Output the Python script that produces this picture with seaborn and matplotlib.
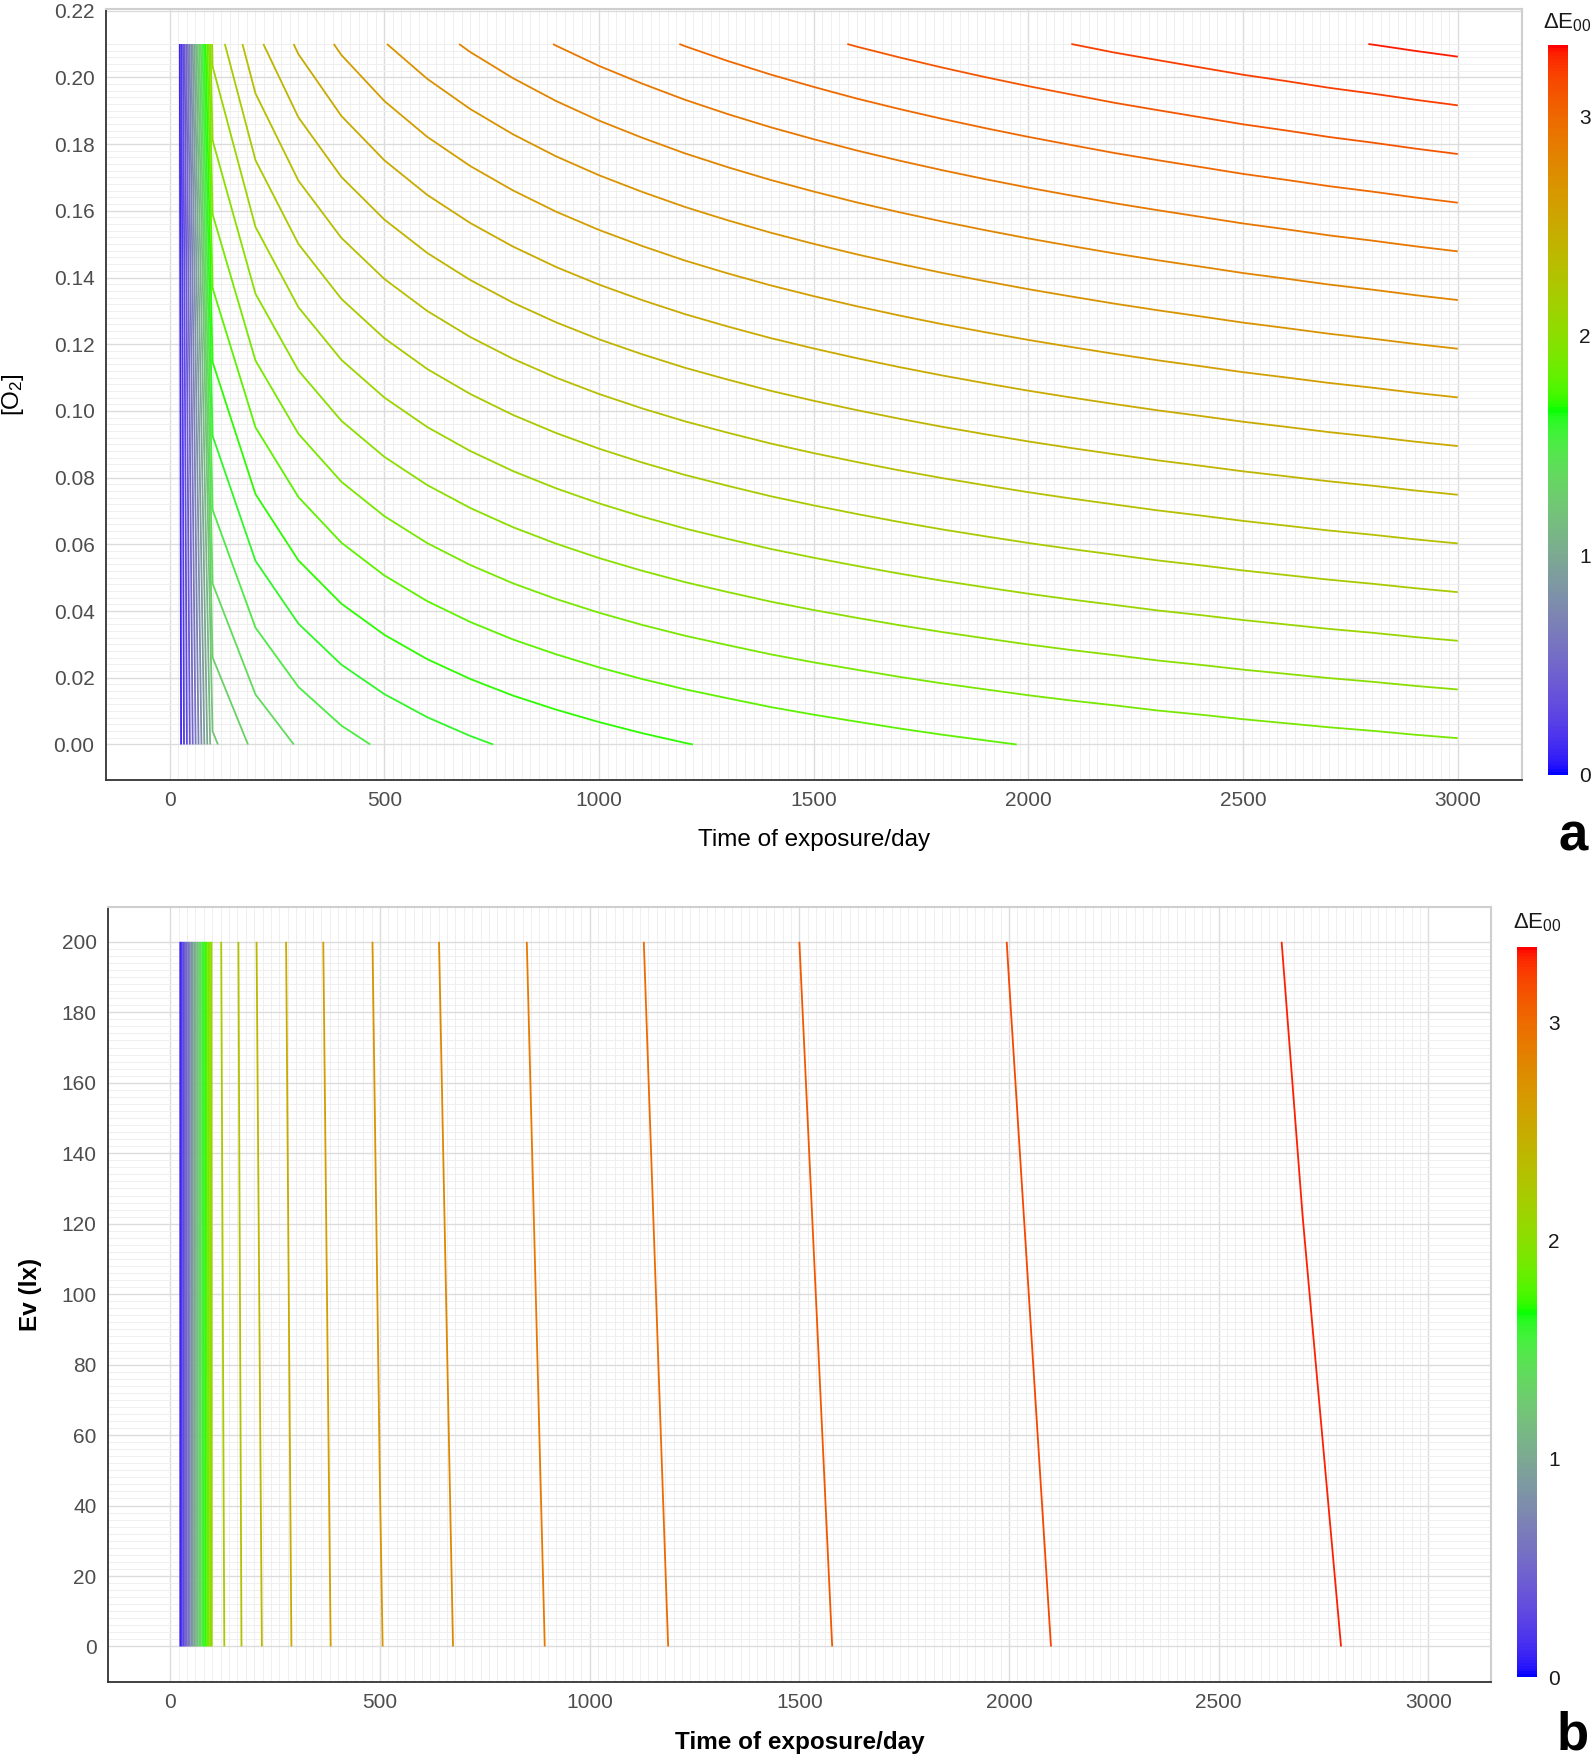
import numpy as np
import matplotlib
matplotlib.use("Agg")
import matplotlib.pyplot as plt
import seaborn as sns
from matplotlib.colors import ListedColormap, Normalize, to_rgb
from matplotlib.cm import ScalarMappable
from matplotlib.ticker import FixedLocator

# === Data: dE00 read off the contour positions ===
# time grid of the model output (days)
time_days = [20, 100, 200, 300, 400, 500, 600, 700, 800, 900, 1000,
             1100, 1200, 1300, 1400, 1500, 1600, 1700, 1800, 1900, 2000,
             2100, 2200, 2300, 2400, 2500, 2600, 2700, 2800, 2900, 3000]

# panel a: rows at [O2] = 0 and [O2] = 0.21
o2_rows = [0.0, 0.21]
de_o2_000 = [0.0, 1.182, 1.325, 1.409, 1.469, 1.515, 1.553, 1.585, 1.613, 1.637, 1.659,
             1.679, 1.697, 1.713, 1.729, 1.743, 1.756, 1.769, 1.781, 1.792, 1.803,
             1.813, 1.822, 1.832, 1.840, 1.849, 1.857, 1.865, 1.872, 1.880, 1.887]
de_o2_021 = [0.0, 2.130, 2.374, 2.516, 2.618, 2.696, 2.760, 2.814, 2.861, 2.903, 2.940,
             2.973, 3.004, 3.032, 3.058, 3.082, 3.105, 3.126, 3.146, 3.165, 3.183,
             3.200, 3.217, 3.232, 3.247, 3.262, 3.275, 3.289, 3.301, 3.314, 3.326]

# panel b: rows at Ev = 0 lx and Ev = 200 lx
ev_rows = [0, 200]
de_ev_000 = [0.0, 2.130, 2.374, 2.516, 2.618, 2.696, 2.760, 2.814, 2.861, 2.903, 2.940,
             2.973, 3.004, 3.032, 3.058, 3.082, 3.105, 3.126, 3.146, 3.165, 3.183,
             3.200, 3.217, 3.232, 3.247, 3.262, 3.275, 3.289, 3.301, 3.314, 3.326]
de_ev_200 = [0.0, 2.148, 2.392, 2.534, 2.636, 2.714, 2.778, 2.832, 2.879, 2.921, 2.958,
             2.991, 3.022, 3.050, 3.076, 3.100, 3.123, 3.144, 3.164, 3.183, 3.201,
             3.218, 3.235, 3.250, 3.265, 3.280, 3.293, 3.307, 3.319, 3.332, 3.344]

contour_levels = [0.1, 0.2, 0.3, 0.4, 0.5, 0.6, 0.7, 0.8, 0.9, 1.0, 1.1,
                  1.2, 1.3, 1.4, 1.5, 1.6, 1.7, 1.8, 1.9, 2.0, 2.1, 2.2,
                  2.3, 2.4, 2.5, 2.6, 2.7, 2.8, 2.9, 3.0, 3.1, 3.2, 3.3]

# === Colour ramp blue -> green -> red, interpolated in CIELAB like ggplot ===
M = np.array([[0.4124564, 0.3575761, 0.1804375],
              [0.2126729, 0.7151522, 0.0721750],
              [0.0193339, 0.1191920, 0.9503041]])
WHITE = np.array([0.95047, 1.0, 1.08883])
D = 6 / 29


def to_lab(col):
    c = np.array(to_rgb(col))
    lin = np.where(c <= 0.04045, c / 12.92, ((c + 0.055) / 1.055) ** 2.4)
    xyz = M @ lin / WHITE
    f = np.where(xyz > D ** 3, np.cbrt(xyz), xyz / (3 * D * D) + 4 / 29)
    return np.array([116 * f[1] - 16, 500 * (f[0] - f[1]), 200 * (f[1] - f[2])])


def from_lab(lab):
    fy = (lab[0] + 16) / 116
    f = np.array([fy + lab[1] / 500, fy, fy - lab[2] / 200])
    xyz = np.where(f > D, f ** 3, 3 * D * D * (f - 4 / 29)) * WHITE
    lin = np.clip(np.linalg.solve(M, xyz), 0, 1)
    c = np.where(lin <= 0.0031308, 12.92 * lin, 1.055 * lin ** (1 / 2.4) - 0.055)
    return np.clip(c, 0, 1)


stops = [to_lab(c) for c in ["blue", "#00ff00", "red"]]
ramp = []
for u in np.linspace(0, 1, 256):
    seg = 0 if u < 0.5 else 1
    w = (u - 0.5 * seg) / 0.5
    ramp.append(from_lab(stops[seg] * (1 - w) + stops[seg + 1] * w))
cmap = ListedColormap(ramp)

# === Style ===
sns.set_theme(style="white")
plt.rcParams["font.family"] = ["Liberation Sans", "DejaVu Sans"]
plt.rcParams["mathtext.default"] = "regular"

fig = plt.figure(figsize=(15.93, 17.62), dpi=100)


def draw_panel(ax_rect, cax_rect, rows, top_row, bottom_row, ylim, yticks, yminor,
               yfmt, ylabel, bold, ylab_x, xlab_y, title_xy, letter_xy, letter):
    ax = fig.add_axes(ax_rect)
    X, Y = np.meshgrid(time_days, rows)
    Z = np.array([bottom_row, top_row])
    norm = Normalize(0, max(max(top_row), max(bottom_row)))
    ax.contour(X, Y, Z, levels=contour_levels, cmap=cmap, norm=norm, linewidths=1.3)

    ax.set_xlim(-149, 3149)
    ax.set_ylim(*ylim)
    ax.set_xticks([0, 500, 1000, 1500, 2000, 2500, 3000])
    ax.set_yticks(yticks)
    ax.set_yticklabels([yfmt.format(v) for v in yticks])
    ax.xaxis.set_minor_locator(FixedLocator(np.arange(0, 3001, 20)))
    ax.yaxis.set_minor_locator(FixedLocator(yminor))
    ax.set_axisbelow(True)
    ax.grid(which="major", color="#dcdcdc", lw=1.0)
    ax.grid(which="minor", color="#efefef", lw=0.7)
    ax.tick_params(which="minor", length=0)
    ax.tick_params(which="major", length=3, color="#333333", labelsize=15,
                   labelcolor="#4d4d4d", pad=5)
    for side in ["left", "bottom"]:
        ax.spines[side].set_color("#333333")
        ax.spines[side].set_linewidth(1.3)
    for side in ["top", "right"]:
        ax.spines[side].set_color("#cfcfcf")
        ax.spines[side].set_linewidth(1.5)

    weight = "bold" if bold else "normal"
    ax.set_xlabel("Time of exposure/day", fontsize=17.5, fontweight=weight, color="black")
    ax.set_ylabel(ylabel, fontsize=17.5, fontweight=weight, color="black")
    ax.xaxis.set_label_coords(0.5, xlab_y)
    ax.yaxis.set_label_coords(ylab_x, 0.5)

    cax = fig.add_axes(cax_rect)
    cb = fig.colorbar(ScalarMappable(norm=norm, cmap=cmap), cax=cax, ticks=[0, 1, 2, 3])
    cb.outline.set_visible(False)
    cax.yaxis.set_ticks_position("both")
    cax.tick_params(axis="y", direction="in", length=4, width=1, color="white",
                    labelsize=15, labelcolor="#1a1a1a", pad=8, labelleft=False,
                    labelright=True)
    fig.text(title_xy[0], title_xy[1], r"$\Delta$E$_{00}$", fontsize=16,
             ha="center", va="center", color="#1a1a1a")
    fig.text(letter_xy[0], letter_xy[1], letter, fontsize=38, fontweight="bold",
             ha="center", va="center", color="black")
    return ax


# === Panel a: [O2] vs time ===
draw_panel([0.0663, 0.5576, 0.889, 0.4373], [0.9718, 0.5602, 0.0126, 0.4143],
           o2_rows, de_o2_021, de_o2_000, (-0.0105, 0.2205),
           [0.00, 0.02, 0.04, 0.06, 0.08, 0.10, 0.12, 0.14, 0.16, 0.18, 0.20, 0.22],
           np.arange(0, 0.2101, 0.002), "{:.2f}", "[O$_2$]", False,
           -0.056, -0.064, (0.9837, 0.9872), (0.9874, 0.525), "a")

# === Panel b: Ev vs time ===
draw_panel([0.0677, 0.04557, 0.8682, 0.4399], [0.952, 0.0482, 0.0127, 0.4143],
           ev_rows, de_ev_200, de_ev_000, (-10, 210),
           [0, 20, 40, 60, 80, 100, 120, 140, 160, 180, 200],
           np.arange(0, 201, 2), "{:.0f}", "Ev (lx)", True,
           -0.0476, -0.0636, (0.9648, 0.4762), (0.9874, 0.015), "b")

fig.savefig("out.png", dpi=100)
plt.close(fig)
